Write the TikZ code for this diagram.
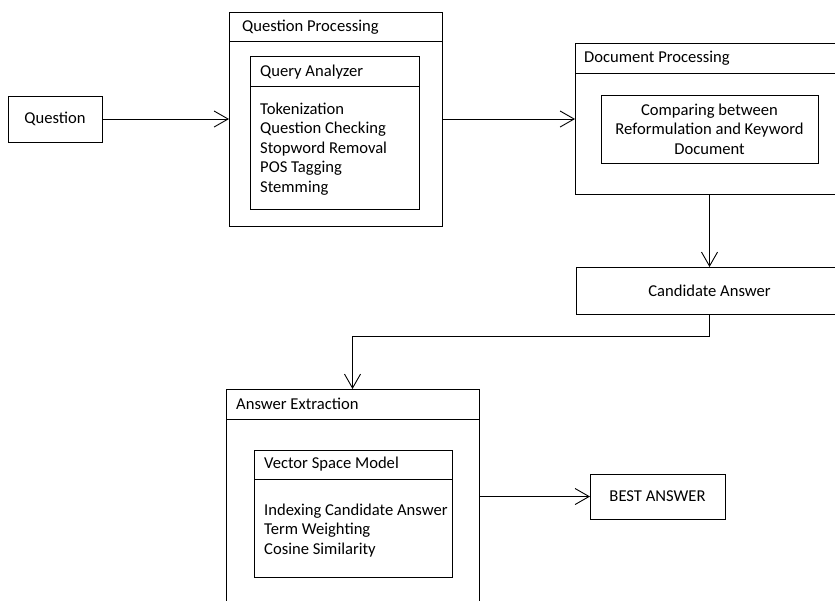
\documentclass[tikz,border=0pt]{standalone}
\usepackage{fontspec}
\setmainfont{Carlito}
\usetikzlibrary{arrows.meta}
\begin{document}
\begin{tikzpicture}[x=1pt,y=-1pt,
  box/.style={draw, line width=0.9pt, inner sep=0pt, outer sep=0pt},
  lbl/.style={anchor=west, inner sep=0pt, font=\fontsize{16.6}{19.5}\selectfont},
  lst/.style={anchor=west, inner sep=0pt, align=left, font=\fontsize{16.6}{19.5}\selectfont},
  conn/.style={line width=0.9pt, -{Straight Barb[length=14pt,width=16pt,line width=0.9pt]}},
  plain/.style={line width=0.9pt}
]
\useasboundingbox (0,0) rectangle (835,600);
\clip (0,0) rectangle (835,600);
% Question
\node[box, minimum width=94pt, minimum height=46pt, font=\fontsize{16.6}{19.5}\selectfont] (q) at (55,119) {Question};
% Question Processing
\node[box, minimum width=213pt, minimum height=214pt] (qp) at (335.5,119) {};
\coordinate (qph) at (229,41);
\draw[plain] (qph) -- (qph -| qp.east);
\node[lbl] (qpt) at (242,27) {Question Processing};
\node[box, minimum width=169pt, minimum height=153pt] (qa) at (334.5,132.5) {};
\coordinate (qah) at (250,86);
\draw[plain] (qah) -- (qah -| qa.east);
\node[lbl] (qat) at (260,72) {Query Analyzer};
\node[lst] (qal) at (260,149) {Tokenization\\Question Checking\\Stopword Removal\\POS Tagging\\Stemming};
% Document Processing
\node[box, minimum width=269pt, minimum height=151pt] (dp) at (709.5,118.5) {};
\coordinate (dph) at (575,73);
\draw[plain] (dph) -- (dph -| dp.east);
\node[lbl] (dpt) at (584,58) {Document Processing};
\node[box, minimum width=217pt, minimum height=68pt, align=center, font=\fontsize{16.6}{19.5}\selectfont] (cmp) at (709.5,129) {Comparing between\\Reformulation and Keyword\\Document};
% Candidate Answer
\node[box, minimum width=267pt, minimum height=47pt, font=\fontsize{16.6}{19.5}\selectfont] (ca) at (709.5,290.5) {Candidate Answer};
% Answer Extraction
\node[box, minimum width=253pt, minimum height=221pt] (ae) at (352.5,499.5) {};
\coordinate (aeh) at (226,419);
\draw[plain] (aeh) -- (aeh -| ae.east);
\node[lbl] (aet) at (236,404) {Answer Extraction};
\node[box, minimum width=198pt, minimum height=127pt] (vsm) at (353,513.5) {};
\coordinate (vsmh) at (254,479);
\draw[plain] (vsmh) -- (vsmh -| vsm.east);
\node[lbl] (vsmt) at (264,464) {Vector Space Model};
\node[lst] (vsml) at (264,530.5) {Indexing Candidate Answer\\Term Weighting\\Cosine Similarity};
% Best Answer
\node[box, minimum width=135pt, minimum height=45pt, font=\fontsize{16.6}{19.5}\selectfont] (ba) at (657.5,496.5) {BEST ANSWER};
% connectors
\draw[conn] (q.east) -- (qp.west |- q.east);
\draw[conn] (qp.east) -- (dp.west |- qp.east);
\draw[conn] (dp.south) -- (ca.north);
\coordinate (bend) at (709.5,336);
\draw[conn] (ca.south) -- (bend) -| (ae.north);
\draw[conn] (ae.east |- ba.west) -- (ba.west);
\end{tikzpicture}
\end{document}
